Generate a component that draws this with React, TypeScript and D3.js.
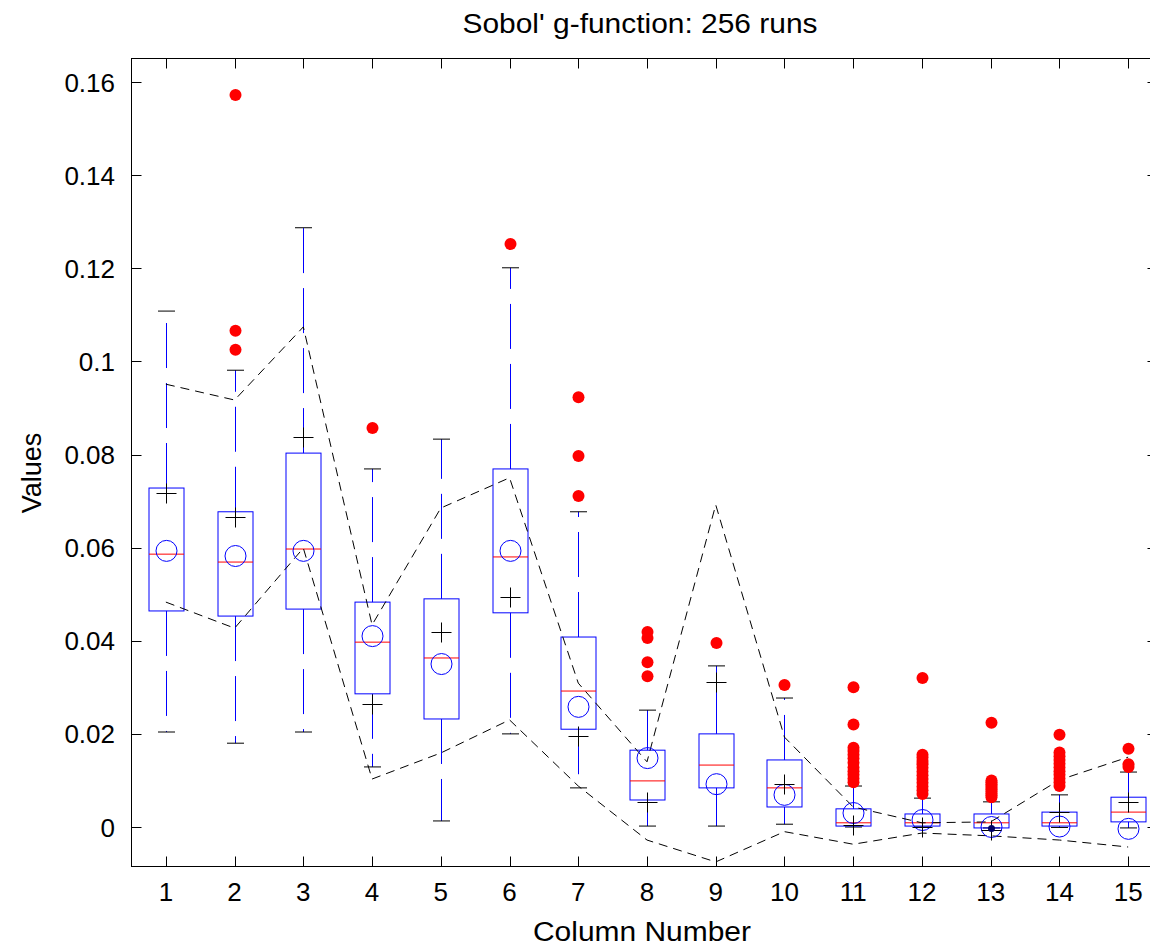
import React from "react";
import * as d3 from "d3";

// ---------- data ----------
const columns = [1, 2, 3, 4, 5, 6, 7, 8, 9, 10, 11, 12, 13, 14, 15];
const yTicks = [0, 0.02, 0.04, 0.06, 0.08, 0.1, 0.12, 0.14, 0.16];

const q1 = [0.0464, 0.0453, 0.0468, 0.0286, 0.0232, 0.046, 0.021, 0.0058, 0.0084, 0.0043, 0.0002, 0.0002, -0.0002, 0.0002, 0.0011];
const q3 = [0.0728, 0.0677, 0.0803, 0.0483, 0.049, 0.0769, 0.0408, 0.0165, 0.02, 0.0144, 0.0039, 0.0028, 0.0028, 0.0032, 0.0064];
const medians = [0.0586, 0.0569, 0.0597, 0.0397, 0.0363, 0.058, 0.0292, 0.0099, 0.0133, 0.0084, 0.0009, 0.0009, 0.0009, 0.0009, 0.0032];
const whiskerLow = [0.0204, 0.018, 0.0204, 0.0129, 0.0013, 0.02, 0.0084, 0.0002, 0.0002, 0.0006, 0.0, 0.0, -0.0002, -0.0001, -0.0002];
const whiskerHigh = [0.1108, 0.0981, 0.1287, 0.0769, 0.0833, 0.1201, 0.0677, 0.0251, 0.0346, 0.0277, 0.0088, 0.0062, 0.0054, 0.0069, 0.0118];
const circleValues = [0.0593, 0.0582, 0.0593, 0.041, 0.035, 0.0593, 0.0258, 0.0148, 0.0092, 0.0069, 0.003, 0.0015, 0.0, 0.0001, -0.0004];
const plusValues = [0.0717, 0.0666, 0.0838, 0.0264, 0.0418, 0.0494, 0.0195, 0.0054, 0.0311, 0.0092, 0.0005, 0.0, -0.0006, 0.0032, 0.0054];
const upperBand = [0.0951, 0.0917, 0.1074, 0.0434, 0.0685, 0.075, 0.0309, 0.014, 0.0692, 0.0193, 0.0043, 0.0009, 0.0011, 0.0101, 0.015];
const lowerBand = [0.0483, 0.0427, 0.0599, 0.0103, 0.0159, 0.023, 0.0088, -0.0028, -0.0075, -0.001, -0.0037, -0.0013, -0.0019, -0.0028, -0.0043];
const outliers: number[][] = [
  [],
  [0.1572, 0.1066, 0.1025],
  [],
  [0.0857],
  [],
  [0.1252],
  [0.0923, 0.0797, 0.0711],
  [0.0419, 0.0406, 0.0354, 0.0324],
  [0.0395],
  [0.0305],
  [0.03, 0.022, 0.017, 0.0163, 0.0155, 0.0147, 0.0138, 0.0128, 0.012, 0.0112, 0.0104, 0.0096],
  [0.032, 0.0155, 0.0149, 0.0142, 0.0135, 0.0127, 0.0119, 0.0111, 0.0103, 0.0095, 0.0087, 0.0079, 0.0071],
  [0.0224, 0.01, 0.0096, 0.0092, 0.0088, 0.0084, 0.008, 0.0076, 0.0072, 0.0068, 0.0064],
  [0.0198, 0.016, 0.0152, 0.0144, 0.0136, 0.0128, 0.012, 0.0112, 0.0104, 0.0096, 0.0088],
  [0.0168, 0.0135, 0.0129],
];
const dotColumns = [13];
const dotValues = [-0.0003];

const titleText = "Sobol' g-function: 256 runs";
const xLabel = "Column Number";
const yLabel = "Values";

// ---------- layout ----------
const W = 1150;
const H = 948;
const left = 131.5;
const right = 1162.5;
const top = 58.5;
const bottom = 866.5;
const FONT = "'Liberation Sans', Arial, Helvetica, sans-serif";

export default function App() {
  const x = d3.scaleLinear().domain([0.5, 15.5]).range([left, right]);
  const y = d3.scaleLinear().domain([0, 0.16]).range([827, 82]);
  const tickLen = 10;
  const boxHalf = 17.5;
  const capHalf = 8.5;
  const plusHalf = 10;

  const bandLine = d3
    .line<number>()
    .x((_, i) => x(columns[i]))
    .y((d) => y(d));

  return (
    <svg
      width={W}
      height={H}
      style={{ position: "absolute", left: 0, top: 0, background: "#fff" }}
      fontFamily={FONT}
    >
      <rect x={0} y={0} width={W} height={H} fill="#fff" />

      {/* boxes and whiskers */}
      {columns.map((c, i) => {
        const cx = Math.round(x(c)) + 0.5;
        return (
          <g key={"box" + c}>
            <line x1={cx} x2={cx} y1={y(q3[i])} y2={y(whiskerHigh[i])} stroke="#0000ff" strokeWidth={1} strokeDasharray="45,15" />
            <line x1={cx} x2={cx} y1={y(q1[i])} y2={y(whiskerLow[i])} stroke="#0000ff" strokeWidth={1} strokeDasharray="45,15" />
            <line x1={cx - capHalf} x2={cx + capHalf} y1={y(whiskerHigh[i])} y2={y(whiskerHigh[i])} stroke="#000" strokeWidth={1} />
            <line x1={cx - capHalf} x2={cx + capHalf} y1={y(whiskerLow[i])} y2={y(whiskerLow[i])} stroke="#000" strokeWidth={1} />
            <rect
              x={cx - boxHalf}
              y={y(q3[i])}
              width={boxHalf * 2}
              height={y(q1[i]) - y(q3[i])}
              fill="none"
              stroke="#0000ff"
              strokeWidth={1}
            />
            <line x1={cx - boxHalf} x2={cx + boxHalf} y1={y(medians[i])} y2={y(medians[i])} stroke="#ff0000" strokeWidth={1} />
          </g>
        );
      })}

      {/* dashed bands */}
      <path d={bandLine(upperBand) || ""} fill="none" stroke="#000" strokeWidth={1} strokeDasharray="9,6" />
      <path d={bandLine(lowerBand) || ""} fill="none" stroke="#000" strokeWidth={1} strokeDasharray="9,6" />

      {/* circles and plus markers */}
      {columns.map((c, i) => {
        const cx = Math.round(x(c)) + 0.5;
        const py = Math.round(y(plusValues[i])) + 0.5;
        return (
          <g key={"mk" + c}>
            <circle cx={cx} cy={y(circleValues[i])} r={10.5} fill="none" stroke="#0000ff" strokeWidth={1} />
            <line x1={cx - plusHalf} x2={cx + plusHalf} y1={py} y2={py} stroke="#000" strokeWidth={1} />
            <line x1={cx} x2={cx} y1={py - plusHalf} y2={py + plusHalf} stroke="#000" strokeWidth={1} />
          </g>
        );
      })}

      {dotColumns.map((c, i) => (
        <circle key={"dot" + c} cx={Math.round(x(c)) + 0.5} cy={y(dotValues[i])} r={3.5} fill="#000066" />
      ))}

      {/* outliers */}
      {columns.map((c, i) =>
        outliers[i].map((v, j) => (
          <circle key={"o" + c + "-" + j} cx={Math.round(x(c)) + 0.5} cy={y(v)} r={6} fill="#ff0000" />
        ))
      )}

      {/* axes frame and ticks */}
      <rect x={left} y={top} width={right - left} height={bottom - top} fill="none" stroke="#000" strokeWidth={1} />
      {columns.map((c) => {
        const tx = Math.round(x(c)) + 0.5;
        return (
          <g key={"xt" + c}>
            <line x1={tx} x2={tx} y1={bottom} y2={bottom - tickLen} stroke="#000" />
            <line x1={tx} x2={tx} y1={top} y2={top + tickLen} stroke="#000" />
            <text x={x(c)} y={901} textAnchor="middle" fontSize={26} fill="#000">
              {c}
            </text>
          </g>
        );
      })}
      {yTicks.map((t) => {
        const ty = Math.round(y(t)) + 0.5;
        return (
          <g key={"yt" + t}>
            <line x1={left} x2={left + tickLen} y1={ty} y2={ty} stroke="#000" />
            <line x1={right} x2={right - tickLen - 5} y1={ty} y2={ty} stroke="#000" />
            <text x={115} y={y(t) + 9.5} textAnchor="end" fontSize={26} fill="#000">
              {String(t)}
            </text>
          </g>
        );
      })}

      {/* labels */}
      <text x={640} y={33} textAnchor="middle" fontSize={27} textLength={355} lengthAdjust="spacingAndGlyphs" fill="#000">
        {titleText}
      </text>
      <text x={642} y={941} textAnchor="middle" fontSize={27} textLength={218} lengthAdjust="spacingAndGlyphs" fill="#000">
        {xLabel}
      </text>
      <text transform={`translate(41,473) rotate(-90)`} textAnchor="middle" fontSize={27} fill="#000">
        {yLabel}
      </text>
    </svg>
  );
}
